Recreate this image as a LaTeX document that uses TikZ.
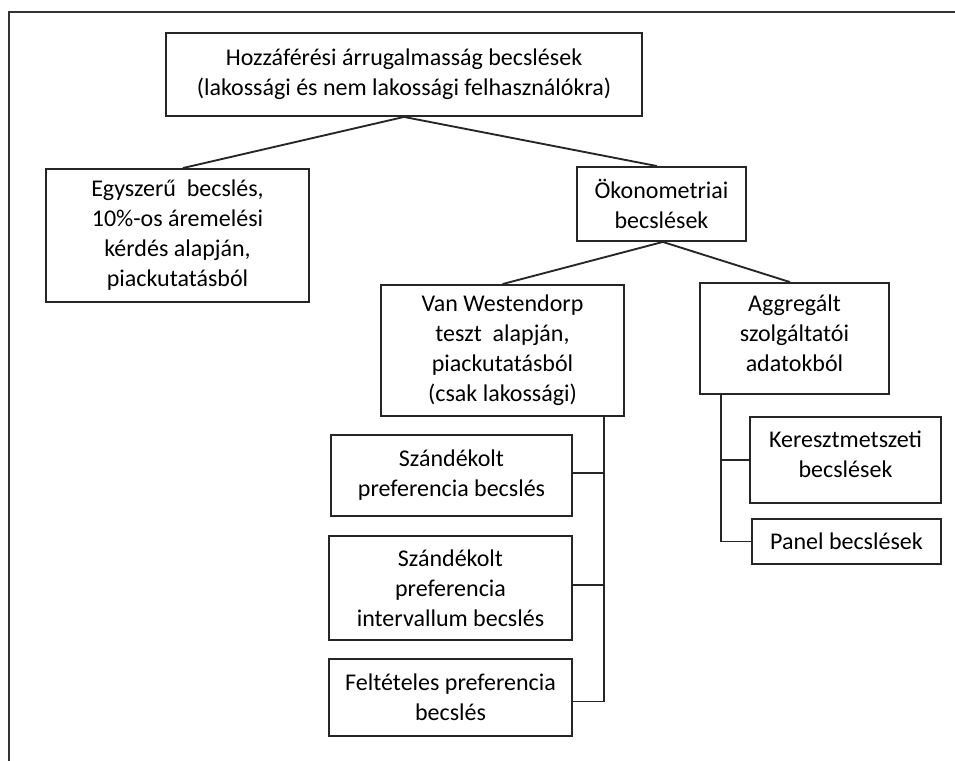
\documentclass[tikz,border=0pt]{standalone}
\usepackage{fontspec}
\setmainfont{Carlito}
\begin{document}
\begin{tikzpicture}[x=0.75pt,y=-0.75pt,
  box/.style 2 args={draw=black!85,line width=1.4pt,inner sep=1pt,align=center,
    minimum width=#1*0.75pt,minimum height=#2*0.75pt,
    font=\fontsize{18}{22.5}\selectfont},
  txt/.style={inner sep=0pt,align=center,font=\fontsize{18}{22.5}\selectfont},
  conn/.style={draw=black!85,line width=1.4pt}]
\useasboundingbox (0,0) rectangle (955,760);
% outer frame (cropped at right and bottom)
\coordinate (fa) at (8.5,770);
\coordinate (fb) at (8.5,11.5);
\coordinate (fc) at (965,11.5);
\draw[draw=black!80,line width=1.5pt] (fa) -- (fb) -- (fc);

\node[box={476}{83}] (top) at (404,74.5) {Hozzáférési árrugalmasság becslések\\(lakossági és nem lakossági felhasználókra)};
\node[box={263}{133}] (egy) at (177.5,235.5) {Egyszerű\ \ becslés,\\10\%-os áremelési\\kérdés alapján,\\piackutatásból};
\node[box={169}{74}] (oko) at (661.5,204) {Ökonometriai\\becslések};
\node[box={243}{131}] (van) at (502.5,350.5) {Van Westendorp\\teszt\ \ alapján,\\piackutatásból\\(csak lakossági)};
\node[box={189}{111}] (agg) at (794.5,338.5) {};
\node[txt] (aggt) at (794.5,333) {Aggregált\\szolgáltatói\\adatokból};
\node[box={191}{86}] (ker) at (845.5,460) {};
\node[txt] (kert) at (845.5,454) {Keresztmetszeti\\becslések};
\node[box={189}{45}] (pan) at (846.5,541.5) {Panel becslések};
\node[box={241}{81}] (sz1) at (451.5,475.5) {Szándékolt\\preferencia becslés};
\node[box={243}{104}] (sz2) at (450.5,588) {Szándékolt\\preferencia\\intervallum becslés};
\node[box={243}{77}] (fel) at (450.5,697.5) {Feltételes preferencia\\becslés};

% tree connectors
\draw[conn] (top.south) -- ([xshift=4pt]egy.north);
\draw[conn] (top.south) -- ([xshift=-3.4pt]oko.north);
\draw[conn] ([xshift=1pt]oko.south) -- (van.north);
\draw[conn] ([xshift=1pt]oko.south) -- ([xshift=-3.4pt]agg.north);

% Van Westendorp bus
\path (van.south east) ++(-21,0) coordinate (vb);
\draw[conn] (vb) |- ([yshift=-3pt]fel.east);
\draw[conn] ([yshift=2pt]sz1.east) -- ([yshift=2pt]sz1.east -| vb);
\draw[conn] ([yshift=2pt]sz2.east) -- ([yshift=2pt]sz2.east -| vb);

% Aggregált bus
\path (agg.south west) ++(22,0) coordinate (ab);
\draw[conn] (ab) |- (pan.west);
\draw[conn] (ker.west) -- (ker.west -| ab);
\end{tikzpicture}
\end{document}
